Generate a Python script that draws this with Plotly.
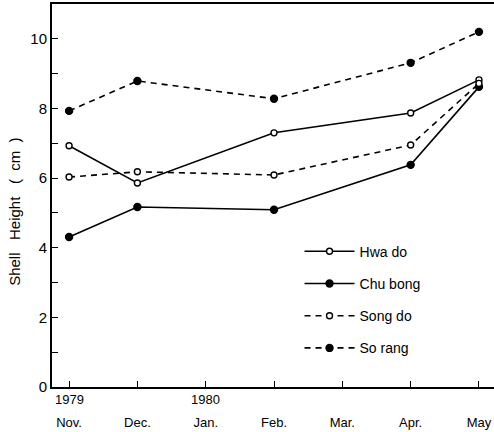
import plotly.graph_objects as go

months = ["Nov.", "Dec.", "Jan.", "Feb.", "Mar.", "Apr.", "May"]
years = {"1979": 0, "1980": 2}
sample_x = [0, 1, 3, 5, 6]

hwado = [6.93, 5.86, 7.30, 7.87, 8.82]
chubong = [4.31, 5.17, 5.09, 6.38, 8.62]
songdo = [6.03, 6.18, 6.09, 6.95, 8.72]
sorang = [7.93, 8.79, 8.28, 9.31, 10.20]

series = [
    ("Hwa do", hwado, "solid", True),
    ("Chu bong", chubong, "solid", False),
    ("Song do", songdo, "dash", True),
    ("So rang", sorang, "dash", False),
]

fig = go.Figure()
for name, vals, dash, open_ in series:
    fig.add_trace(go.Scatter(
        x=sample_x, y=vals, name=name, mode="lines+markers", legendgroup=name,
        line=dict(color="black", width=1.6, dash="6px,5px" if dash == "dash" else "solid"),
        marker=dict(symbol="circle", size=6 if open_ else 7,
                    color="white" if open_ else "black",
                    line=dict(color="black", width=1.4)),
    ))

font = "Liberation Sans"
fig.update_layout(
    width=494, height=432,
    margin=dict(l=52, r=0, t=4, b=45),
    paper_bgcolor="white", plot_bgcolor="white",
    font=dict(family=font, size=13, color="black"),
    showlegend=True,
    legend=dict(x=0.56, y=0.395, xanchor="left", yanchor="top",
                bgcolor="rgba(0,0,0,0)", font=dict(size=14),
                tracegroupgap=11, itemwidth=50),
    xaxis=dict(range=[-0.25, 6.22], tickmode="array",
               tickvals=list(range(len(months))), ticktext=months,
               ticks="inside", ticklen=6, tickwidth=1.3, tickcolor="black",
               showline=True, linecolor="black", linewidth=2, mirror=True,
               showgrid=False, zeroline=False,
               ticklabelstandoff=22, tickfont=dict(size=13)),
    yaxis=dict(range=[0, 11], tickmode="array", tickvals=[0, 2, 4, 6, 8, 10],
               ticks="inside", ticklen=6, tickwidth=1.3, tickcolor="black",
               minor=dict(tickvals=[1, 3, 5, 7, 9], ticks="inside", ticklen=6,
                          tickwidth=1.3, tickcolor="black", showgrid=False),
               showline=True, linecolor="black", linewidth=2,
               showgrid=False, zeroline=False, tickfont=dict(size=15)),
)

fig.add_annotation(x=-0.084, y=0.457, xref="paper", yref="paper",
                   text="Shell   Height   (  cm  )", textangle=-90,
                   showarrow=False, xanchor="center", yanchor="middle",
                   font=dict(size=15, family=font))

for label, xv in years.items():
    fig.add_annotation(x=xv, y=0, xref="x", yref="paper", text=label,
                       showarrow=False, yanchor="top", yshift=-3,
                       font=dict(size=13, family=font))

fig.write_html("out.html")
